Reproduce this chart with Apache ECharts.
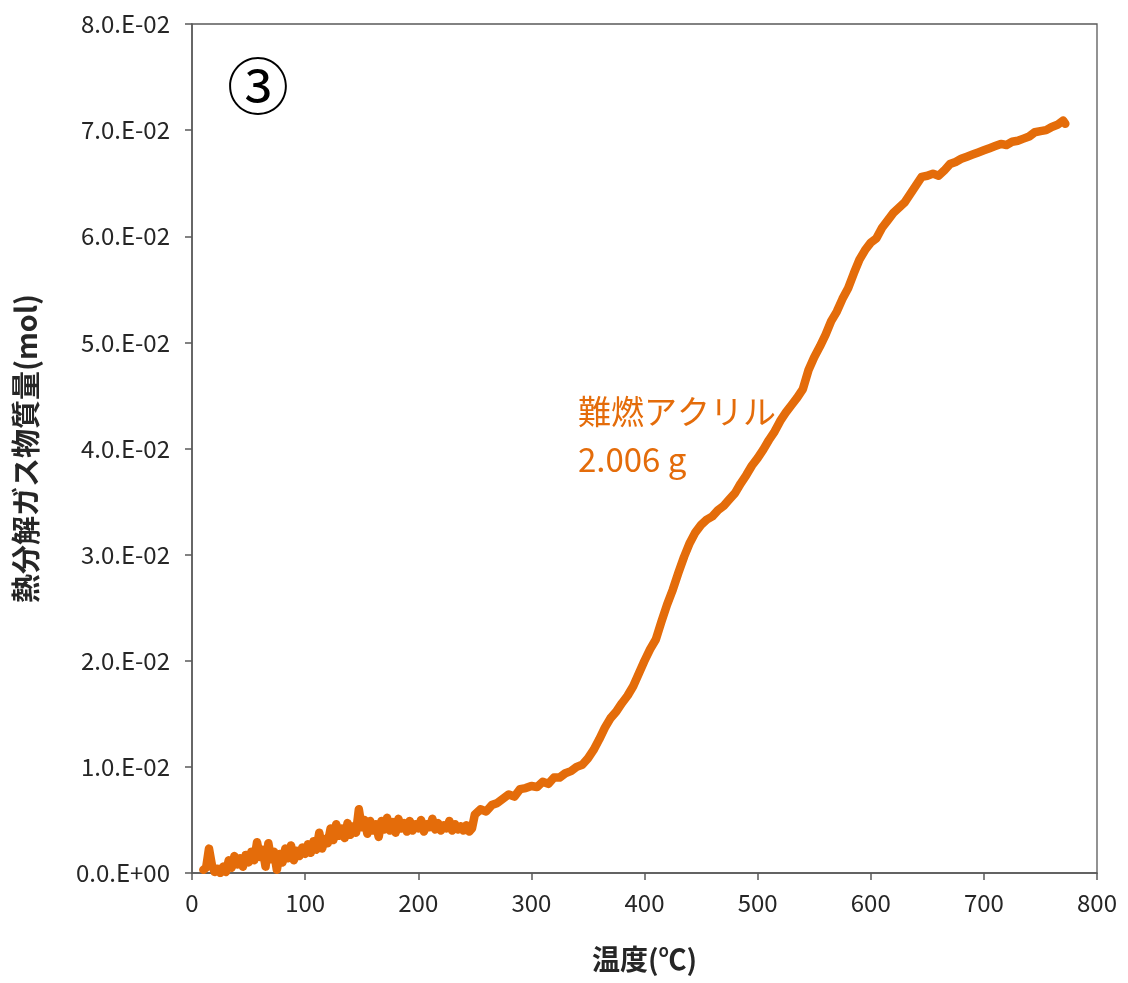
<!DOCTYPE html>
<html>
<head>
<meta charset="utf-8">
<script src="https://cdn.jsdelivr.net/npm/echarts@6/dist/echarts.min.js"></script>
<style>
html,body{margin:0;padding:0;background:#fff;}
#chart{width:1128px;height:983px;}
</style>
</head>
<body>
<div id="chart"></div>
<script>
const temps = [10,12.5,15,17.5,20,22.5,25,27.5,30,32.5,35,37.5,40,42.5,45,47.5,50,52.5,55,57.5,60,62.5,65,67.5,70,72.5,75,77.5,80,82.5,85,87.5,90,92.5,95,97.5,100,102.5,105,107.5,110,112.5,115,117.5,120,122.5,125,127.5,130,132.5,135,137.5,140,142.5,145,147.5,150,152.5,155,157.5,160,162.5,165,167.5,170,172.5,175,177.5,180,182.5,185,187.5,190,192.5,195,197.5,200,202.5,205,207.5,210,212.5,215,217.5,220,222.5,225,227.5,230,232.5,235,237.5,240,242.5,245,247.5,250,255,260,265,270,275,280,285,290,295,300,305,310,315,320,325,330,335,340,345,350,355,360,365,370,375,380,385,390,395,400,405,410,415,420,425,430,435,440,445,450,455,460,465,470,475,480,485,490,495,500,505,510,515,520,525,530,535,540,545,550,555,560,565,570,575,580,585,590,595,600,605,610,615,620,625,630,635,640,645,650,655,660,665,670,675,680,685,690,695,700,705,710,715,720,725,730,735,740,745,750,755,760,765,770,772];
const gasMol = [0.0003,0.0005,0.0023,0.0008,0.0001,0.0004,0.0000,0.0006,0.0001,0.0012,0.0005,0.0016,0.0008,0.0014,0.0006,0.0017,0.0010,0.0020,0.0012,0.0029,0.0015,0.0022,0.0006,0.0028,0.0013,0.0020,0.0003,0.0018,0.0010,0.0023,0.0014,0.0026,0.0012,0.0021,0.0016,0.0024,0.0018,0.0027,0.0019,0.0030,0.0022,0.0038,0.0023,0.0032,0.0028,0.0042,0.0031,0.0046,0.0035,0.0042,0.0033,0.0047,0.0036,0.0044,0.0038,0.0060,0.0043,0.0050,0.0037,0.0049,0.0040,0.0046,0.0034,0.0049,0.0041,0.0052,0.0040,0.0048,0.0038,0.0051,0.0042,0.0047,0.0039,0.0049,0.0040,0.0046,0.0042,0.0050,0.0039,0.0046,0.0043,0.0051,0.0041,0.0047,0.0040,0.0045,0.0042,0.0049,0.0040,0.0046,0.0041,0.0044,0.0040,0.0045,0.0039,0.0042,0.0055,0.0060,0.0058,0.0064,0.0066,0.0070,0.0074,0.0072,0.0079,0.0080,0.0082,0.0081,0.0086,0.0084,0.0090,0.0090,0.0094,0.0096,0.0100,0.0102,0.0108,0.0116,0.0126,0.0137,0.0146,0.0152,0.0160,0.0167,0.0176,0.0188,0.0200,0.0211,0.0220,0.0237,0.0253,0.0267,0.0283,0.0298,0.0311,0.0321,0.0328,0.0333,0.0336,0.0342,0.0346,0.0352,0.0358,0.0367,0.0375,0.0384,0.0391,0.0399,0.0408,0.0416,0.0426,0.0434,0.0441,0.0448,0.0456,0.0474,0.0486,0.0496,0.0507,0.0520,0.0529,0.0541,0.0551,0.0565,0.0578,0.0587,0.0594,0.0598,0.0608,0.0615,0.0622,0.0627,0.0632,0.0640,0.0648,0.0656,0.0657,0.0659,0.0657,0.0662,0.0668,0.0670,0.0673,0.0675,0.0677,0.0679,0.0681,0.0683,0.0685,0.0687,0.0686,0.0689,0.0690,0.0692,0.0694,0.0698,0.0699,0.0700,0.0703,0.0705,0.0709,0.0706];
const yTickLabels = ['0.0.E+00','1.0.E-02','2.0.E-02','3.0.E-02','4.0.E-02','5.0.E-02','6.0.E-02','7.0.E-02','8.0.E-02'];
const xTickLabels = ['0','100','200','300','400','500','600','700','800'];
const seriesName = '難燃アクリル';
const sampleMass = '2.006 g';
const panelMark = '③';

const orange = '#E46C0A';
const axisCol = '#595959';
const font = "'Noto Sans CJK JP','Noto Sans',sans-serif";

const chart = echarts.init(document.getElementById('chart'));
chart.setOption({
  backgroundColor: '#fff',
  animation: false,
  grid: {left:192, right:31, top:24, bottom:110, show:true, borderColor:'#595959', borderWidth:1.3},
  xAxis: {
    type:'value', min:0, max:800, interval:100,
    name:'温度(℃)', nameLocation:'middle', nameGap:72,
    nameTextStyle:{fontFamily:font, fontSize:28, fontWeight:'bold', color:'#262626'},
    axisLine:{show:true, onZero:false, lineStyle:{color:axisCol, width:1.5}},
    axisTick:{show:true, inside:false, length:7, lineStyle:{color:axisCol, width:1.5}},
    axisLabel:{margin:18, fontFamily:font, fontSize:24, color:'#262626',
      formatter:(v)=>xTickLabels[Math.round(v/100)]},
    splitLine:{show:false}
  },
  yAxis: {
    type:'value', min:0, max:0.08, interval:0.01,
    name:'熱分解ガス物質量(mol)', nameLocation:'middle', nameGap:152, nameRotate:90,
    nameTextStyle:{fontFamily:font, fontSize:29, fontWeight:'bold', color:'#262626'},
    axisLine:{show:true, lineStyle:{color:axisCol, width:1.5}},
    axisTick:{show:true, inside:false, length:7, lineStyle:{color:axisCol, width:1.5}},
    axisLabel:{margin:22, fontFamily:font, fontSize:24, color:'#262626',
      formatter:(v)=>yTickLabels[Math.round(v/0.01)]},
    splitLine:{show:false}
  },
  graphic: [
    {type:'text', left:227, top:55, style:{text:panelMark, font:"62px 'Noto Sans CJK JP'", fill:'#000'}},
    {type:'text', left:578, top:387, style:{text:seriesName + '\n' + sampleMass, font:"33px 'Noto Sans CJK JP'", fill:orange, lineHeight:48}}
  ],
  series: [{
    type:'line', name:seriesName,
    data: temps.map((t,i)=>[t, gasMol[i]]),
    showSymbol:false, symbol:'none',
    lineStyle:{color:orange, width:8.5, join:'round', cap:'round'},
    itemStyle:{color:orange}
  }]
});
</script>
</body>
</html>
